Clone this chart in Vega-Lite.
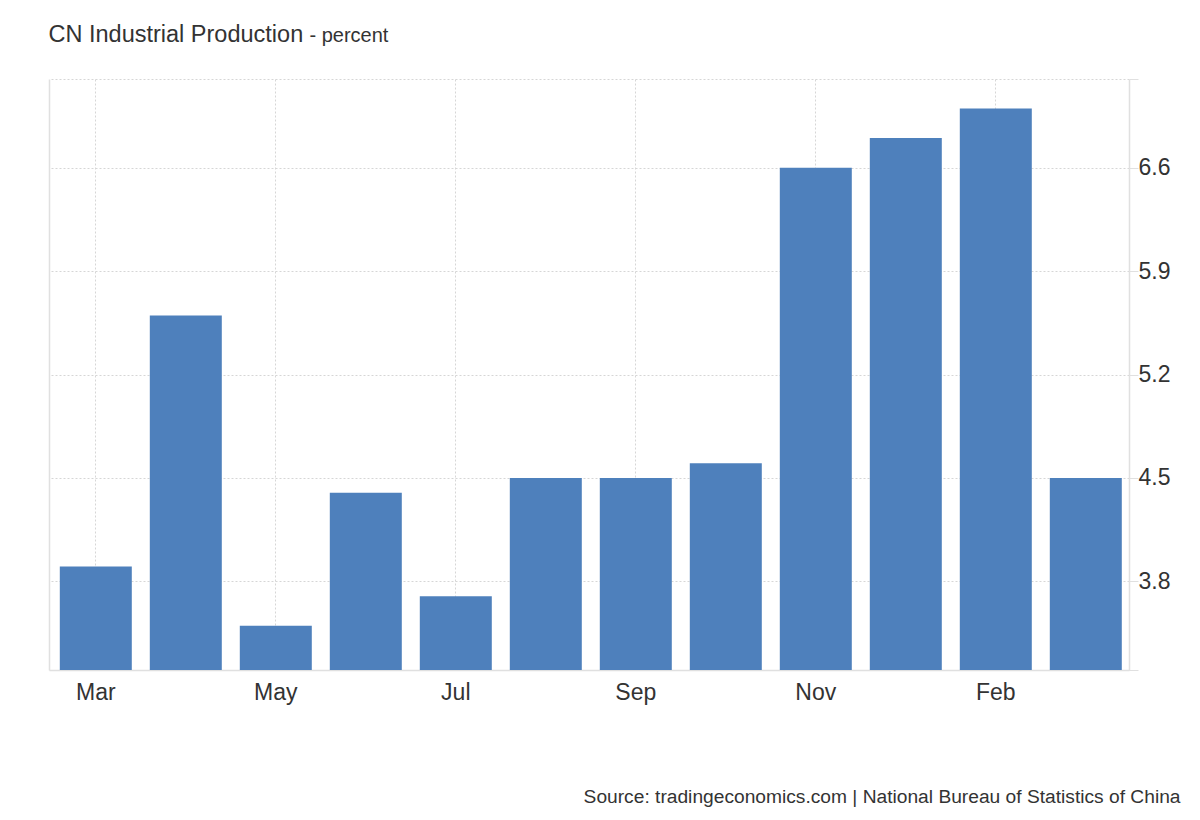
{
  "$schema": "https://vega.github.io/schema/vega-lite/v6.json",
  "width": 1080,
  "height": 591,
  "autosize": {"type": "none"},
  "padding": {"left": 49, "top": 79, "right": 71, "bottom": 150},
  "background": "white",
  "config": {
    "view": {"stroke": null},
    "font": "Liberation Sans",
    "axis": {"labelFont": "Liberation Sans", "titleFont": "Liberation Sans"}
  },
  "data": {
    "values": [
      {"date": "2023-03", "value": 3.9},
      {"date": "2023-04", "value": 5.6},
      {"date": "2023-05", "value": 3.5},
      {"date": "2023-06", "value": 4.4},
      {"date": "2023-07", "value": 3.7},
      {"date": "2023-08", "value": 4.5},
      {"date": "2023-09", "value": 4.5},
      {"date": "2023-10", "value": 4.6},
      {"date": "2023-11", "value": 6.6},
      {"date": "2023-12", "value": 6.8},
      {"date": "2024-02", "value": 7.0},
      {"date": "2024-03", "value": 4.5}
    ]
  },
  "layer": [
    {
      "mark": {"type": "bar", "color": "#4e80bc"},
      "encoding": {
        "x": {
          "field": "date",
          "type": "ordinal",
          "sort": null,
          "scale": {"paddingInner": 0.2, "paddingOuter": 0.1, "align": 0.6},
          "axis": {
            "orient": "bottom",
            "values": ["2023-03", "2023-05", "2023-07", "2023-09", "2023-11", "2024-02"],
            "labelExpr": "utcFormat(toDate(datum.value + '-15'), '%b')",
            "labelAngle": 0,
            "labelFontSize": 23,
            "labelColor": "#333333",
            "labelPadding": 11,
            "ticks": false,
            "tickSize": 0,
            "domain": true,
            "domainColor": "#e0e0e0",
            "domainWidth": 1.5,
            "grid": true,
            "gridColor": "#d6d6d6",
            "gridDash": [2, 2],
            "gridWidth": 1,
            "title": "Source: tradingeconomics.com | National Bureau of Statistics of China",
            "titleFontSize": 19.2,
            "titleFontWeight": "normal",
            "titleColor": "#333333",
            "titleX": 1131,
            "titleY": 132,
            "titleAlign": "right",
            "titleBaseline": "alphabetic",
            "titleAngle": 0
          }
        },
        "y": {
          "field": "value",
          "type": "quantitative",
          "scale": {"domain": [3.2, 7.2], "nice": false, "zero": false},
          "axis": {
            "orient": "right",
            "values": [3.2, 3.8, 4.5, 5.2, 5.9, 6.6, 7.2],
            "labelExpr": "datum.value < 3.5 || datum.value > 7 ? '' : format(datum.value, '.1f')",
            "grid": true,
            "gridColor": "#d6d6d6",
            "gridDash": [2, 2],
            "gridWidth": 1,
            "domainColor": "#e0e0e0",
            "domainWidth": 1.5,
            "tickColor": "#e0e0e0",
            "tickSize": 9,
            "labelPadding": 0,
            "labelFontSize": 23,
            "labelColor": "#333333",
            "labelBaseline": "middle",
            "title": null
          }
        },
        "y2": {"datum": 3.2}
      }
    },
    {
      "mark": {"type": "bar", "opacity": 0},
      "encoding": {
        "x": {
          "field": "date",
          "type": "ordinal",
          "sort": null,
          "scale": {"paddingInner": 0.2, "paddingOuter": 0.1, "align": 0.6},
          "axis": {
            "orient": "top",
            "labels": false,
            "ticks": false,
            "domain": false,
            "grid": false,
            "title": "CN Industrial Production",
            "titleFontSize": 23.5,
            "titleFontWeight": "normal",
            "titleColor": "#333333",
            "titleX": -1,
            "titleY": -38,
            "titleAlign": "left",
            "titleBaseline": "alphabetic",
            "titleAngle": 0
          }
        },
        "y": {
          "field": "value",
          "type": "quantitative",
          "scale": {"domain": [3.2, 7.2], "nice": false, "zero": false},
          "axis": {
            "orient": "left",
            "labels": false,
            "ticks": false,
            "domain": true,
            "domainColor": "#e0e0e0",
            "domainWidth": 1.5,
            "grid": false,
            "title": "- percent",
            "titleFontSize": 20,
            "titleFontWeight": "normal",
            "titleColor": "#333333",
            "titleX": 260,
            "titleY": -38,
            "titleAlign": "left",
            "titleBaseline": "alphabetic",
            "titleAngle": 0
          }
        },
        "y2": {"datum": 3.2}
      }
    }
  ],
  "resolve": {"axis": {"x": "independent", "y": "independent"}}
}
